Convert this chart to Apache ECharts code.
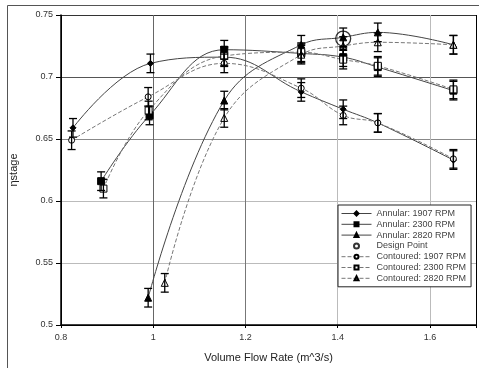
<!DOCTYPE html>
<html>
<head>
<meta charset="utf-8">
<script src="https://cdn.jsdelivr.net/npm/echarts@6/dist/echarts.min.js"></script>
<style>
  html, body { margin: 0; padding: 0; background: #fff; }
  #chart { width: 479px; height: 368px; }
</style>
</head>
<body>
<div id="chart"></div>
<script>
// [flow rate, efficiency]
var annular1907 = [[0.826, 0.659], [0.994, 0.711], [1.154, 0.716], [1.321, 0.688], [1.412, 0.674], [1.487, 0.663], [1.651, 0.633]];
var annular2300 = [[0.887, 0.616], [0.992, 0.669], [1.154, 0.722], [1.321, 0.719], [1.412, 0.716], [1.487, 0.708], [1.651, 0.689]];
var annular2820 = [[0.989, 0.522], [1.154, 0.681], [1.321, 0.726], [1.412, 0.732], [1.487, 0.736], [1.651, 0.726]];
var contoured1907 = [[0.823, 0.649], [0.989, 0.684], [1.154, 0.711], [1.321, 0.691], [1.412, 0.669], [1.487, 0.663], [1.651, 0.634]];
var contoured2300 = [[0.892, 0.610], [0.990, 0.673], [1.154, 0.717], [1.321, 0.720], [1.412, 0.714], [1.487, 0.709], [1.651, 0.690]];
var contoured2820 = [[1.025, 0.534], [1.154, 0.667], [1.321, 0.718], [1.412, 0.725], [1.487, 0.728], [1.651, 0.726]];
var designPoint = [[1.412, 0.731]];
var errHalf = 0.0075; // half height of the error bars

var seriesNames = ["Annular: 1907 RPM", "Annular: 2300 RPM", "Annular: 2820 RPM", "Design Point",
  "Contoured: 1907 RPM", "Contoured: 2300 RPM", "Contoured: 2820 RPM"];

var chart = echarts.init(document.getElementById("chart"));

// every measured point gets an error bar
var errData = [];
[annular1907, annular2300, annular2820, contoured1907, contoured2300, contoured2820].forEach(function (s) {
  s.forEach(function (p) {
    errData.push([p[0], p[1] - errHalf, p[1] + errHalf]);
  });
});

function lineSeries(name, data, symbol, size, filled, dashed) {
  return {
    name: name,
    type: "line",
    data: data,
    smooth: 0.4,
    symbol: symbol,
    symbolSize: size,
    z: 3,
    lineStyle: {
      color: dashed ? "#777" : "#444",
      width: 1,
      type: dashed ? [4, 2] : "solid",
    },
    itemStyle: {
      color: filled ? "#000" : "#fff",
      borderColor: "#000",
      borderWidth: 1,
    },
  };
}

var option = {
  animation: false,
  textStyle: { fontFamily: "Arial, 'Liberation Sans', sans-serif" },
  graphic: [
    {
      type: "rect",
      shape: { x: 7.5, y: 5.5, width: 480, height: 370 },
      style: { fill: "none", stroke: "#555", lineWidth: 1 },
      silent: true,
    },
  ],
  grid: { left: 57, right: 0, top: 15, bottom: 35 },
  legend: {
    orient: "vertical",
    left: 338,
    top: 205,
    data: seriesNames,
    backgroundColor: "#fff",
    borderColor: "#222",
    borderWidth: 1,
    padding: [4, 5, 4, 3],
    itemWidth: 30,
    itemHeight: 5,
    itemGap: 1.8,
    lineStyle: { width: 1 },
    textStyle: { fontSize: 9, lineHeight: 9, color: "#444" },
  },
  xAxis: {
    type: "value",
    min: 0.8,
    max: 1.7,
    interval: 0.2,
    name: "Volume Flow Rate (m^3/s)",
    nameLocation: "middle",
    nameGap: 27,
    nameTextStyle: { fontSize: 11, color: "#222" },
    axisLine: { lineStyle: { color: "#000", width: 1.5 } },
    axisTick: { show: true, length: 3, lineStyle: { color: "#000" } },
    axisLabel: {
      fontSize: 9,
      color: "#333",
      margin: 8,
      formatter: function (v) {
        return v > 1.65 ? "" : String(+v.toFixed(1));
      },
    },
    splitLine: {
      show: true,
      lineStyle: { color: ["#000", "#666", "#777", "#bbb", "#bbb"], width: 1 },
    },
  },
  yAxis: {
    type: "value",
    min: 0.5,
    max: 0.75,
    interval: 0.05,
    name: "ηstage",
    nameLocation: "middle",
    nameGap: 42,
    nameTextStyle: { fontSize: 11, color: "#222" },
    axisLine: { show: true, lineStyle: { color: "#000", width: 1.5 } },
    axisTick: { show: true, length: 5, lineStyle: { color: "#000" } },
    axisLabel: {
      fontSize: 9,
      color: "#333",
      margin: 8,
      formatter: function (v) {
        return String(+v.toFixed(2));
      },
    },
    splitLine: {
      show: true,
      lineStyle: { color: ["#000", "#bbb", "#bbb", "#888", "#555", "#333"], width: 1 },
    },
  },
  series: [
    lineSeries(seriesNames[0], annular1907, "diamond", 6, true, false),
    lineSeries(seriesNames[1], annular2300, "rect", 7, true, false),
    lineSeries(seriesNames[2], annular2820, "triangle", 7, true, false),
    {
      name: seriesNames[3],
      type: "scatter",
      data: designPoint,
      symbol: "circle",
      symbolSize: 15,
      z: 5,
      itemStyle: { color: "rgba(255,255,255,0)", borderColor: "#000", borderWidth: 1.3 },
    },
    lineSeries(seriesNames[4], contoured1907, "circle", 6, false, true),
    lineSeries(seriesNames[5], contoured2300, "rect", 7, false, true),
    lineSeries(seriesNames[6], contoured2820, "triangle", 7, false, true),
    {
      name: "errors",
      type: "custom",
      data: errData,
      z: 4,
      encode: { x: 0, y: [1, 2] },
      renderItem: function (params, api) {
        var lo = api.coord([api.value(0), api.value(1)]);
        var hi = api.coord([api.value(0), api.value(2)]);
        var w = 4;
        var st = { stroke: "#000", lineWidth: 1.3 };
        return {
          type: "group",
          children: [
            { type: "line", shape: { x1: lo[0], y1: lo[1], x2: hi[0], y2: hi[1] }, style: st },
            { type: "line", shape: { x1: lo[0] - w, y1: lo[1], x2: lo[0] + w, y2: lo[1] }, style: st },
            { type: "line", shape: { x1: hi[0] - w, y1: hi[1], x2: hi[0] + w, y2: hi[1] }, style: st },
          ],
        };
      },
    },
  ],
};

chart.setOption(option);
</script>
</body>
</html>
